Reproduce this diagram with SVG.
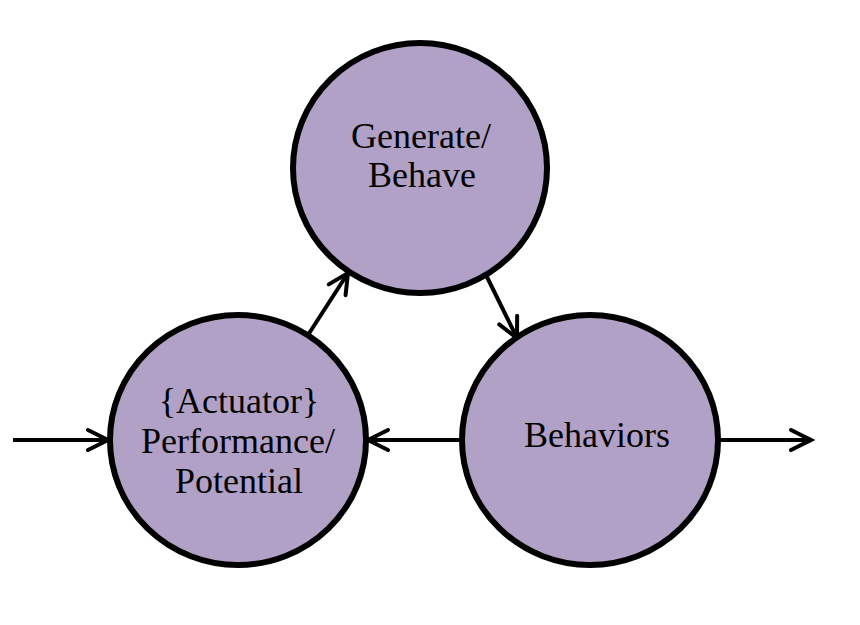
<svg xmlns="http://www.w3.org/2000/svg" width="860" height="625" viewBox="0 0 860 625">
  <style>
    .node { fill: #B2A1C7; stroke: #000; stroke-width: 6; }
    .lbl { font-family: "Liberation Serif", "Times New Roman", serif; font-size: 36px; fill: #000; text-anchor: middle; }
    .conn { stroke: #000; stroke-width: 4; fill: none; marker-end: url(#arrow); }
  </style>
  <defs>
    <marker id="arrow" markerUnits="userSpaceOnUse" viewBox="-24 -14 28 28" refX="0" refY="0" markerWidth="28" markerHeight="28" orient="auto" overflow="visible">
      <path d="M-20,-10 L0,0 L-20,10" fill="none" stroke="#000" stroke-width="4" stroke-linecap="round" stroke-linejoin="miter"/>
    </marker>
  </defs>
  <rect width="860" height="625" fill="#fff"/>
  <g id="connectors">
    <line class="conn" x1="13" y1="440" x2="108" y2="440"/>
    <line class="conn" x1="308" y1="335" x2="348" y2="273"/>
    <line class="conn" x1="487" y1="277" x2="517" y2="338"/>
    <line class="conn" x1="462" y1="440" x2="368" y2="440"/>
    <line class="conn" x1="720" y1="440" x2="811" y2="440"/>
  </g>
  <g id="node-generate">
    <ellipse class="node" cx="420" cy="168" rx="127" ry="125"/>
    <text class="lbl" x="421" y="148">Generate/</text>
    <text class="lbl" x="422" y="187">Behave</text>
  </g>
  <g id="node-actuator">
    <ellipse class="node" cx="238" cy="440" rx="128" ry="125"/>
    <text class="lbl" x="239" y="413">{Actuator}</text>
    <text class="lbl" x="238" y="453">Performance/</text>
    <text class="lbl" x="239" y="493">Potential</text>
  </g>
  <g id="node-behaviors">
    <ellipse class="node" cx="590" cy="440" rx="128" ry="125"/>
    <text class="lbl" x="597" y="447">Behaviors</text>
  </g>
</svg>
